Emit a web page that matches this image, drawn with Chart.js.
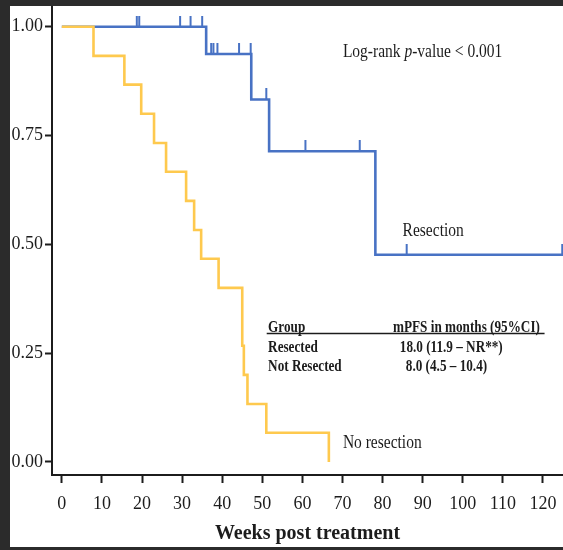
<!DOCTYPE html>
<html><head><meta charset="utf-8">
<script src="https://cdn.jsdelivr.net/npm/chart.js@4.4.1/dist/chart.umd.min.js"></script>
<style>html,body{margin:0;padding:0;background:#2a2a2a;overflow:hidden}#wrap{width:563px;height:550px;position:relative}</style>
</head><body><div id="wrap"><canvas id="c" width="563" height="550"></canvas></div>
<script>
// ---- data ----
const notResectedWeeks = [0, 7.9, 15.6, 19.8, 23.0, 26.0, 31.0, 33.0, 34.75, 39.1, 45.0, 45.4, 46.3, 51.0, 66.6];
const notResectedSurv  = [1, 0.933, 0.867, 0.8, 0.733, 0.667, 0.6, 0.533, 0.467, 0.4, 0.267, 0.2, 0.133, 0.067, 0];
const resectedWeeks = [0, 36.0, 47.25, 51.7, 78.2, 125];
const resectedSurv  = [1, 0.9375, 0.833, 0.714, 0.476, 0.476];
const censorWeeks = [18.7, 19.3, 29.5, 32.1, 35.0, 37.25, 37.8, 38.8, 44.2, 47.1, 51.0, 60.75, 74.3, 86.0, 124.8];
const censorSurv  = [1, 1, 1, 1, 1, 0.9375, 0.9375, 0.9375, 0.9375, 0.9375, 0.833, 0.714, 0.714, 0.476, 0.476];
const xTicks = [0, 10, 20, 30, 40, 50, 60, 70, 80, 90, 100, 110, 120];
const yTicks = [0, 0.25, 0.5, 0.75, 1.0];
const xTitle = 'Weeks post treatment';
const labelResected = 'Resection';
const labelNotResected = 'No resection';
const tableHeader = ['Group', 'mPFS in months (95%CI)'];
const tableRows = [['Resected', '18.0 (11.9 \u2013 NR**)'], ['Not Resected', '8.0 (4.5 \u2013 10.4)']];

const BLUE = '#4872c4', YELLOW = '#fec94e', INK = '#1c1c1c';
const SERIF = 'Liberation Serif, Times New Roman, serif';
const SY = 1.25;

function pts(xs, ys){ return xs.map((v,i)=>({x:v, y:ys[i]})); }

// censor tick glyph: vertical stroke above the point
const tick = document.createElement('canvas');
tick.width = 4; tick.height = 22;
(function(){ const t = tick.getContext('2d'); t.strokeStyle = BLUE; t.lineWidth = 2; t.beginPath(); t.moveTo(2,0); t.lineTo(2,11); t.stroke(); })();

function stxt(ctx, text, x, y, font, align){
  ctx.save();
  ctx.translate(x, y);
  ctx.scale(1, SY);
  ctx.font = font;
  ctx.textAlign = align || 'left';
  ctx.textBaseline = 'alphabetic';
  ctx.fillStyle = INK;
  ctx.fillText(text, 0, 0);
  ctx.restore();
}

const deco = {
  id: 'deco',
  beforeDraw(chart){
    const ctx = chart.ctx;
    ctx.save(); ctx.fillStyle = '#ffffff'; ctx.fillRect(0,0,chart.width,chart.height); ctx.restore();
  },
  afterDatasetsDraw(chart){
    const {ctx, scales:{x, y}} = chart;
    const X = v => x.getPixelForValue(v), Y = v => y.getPixelForValue(v);
    const f = '15.5px ' + SERIF;
    // log-rank
    let px = X(70.1), py = Y(0.93);
    ctx.save(); ctx.font = f;
    const w1 = ctx.measureText('Log-rank ').width;
    ctx.font = 'italic ' + f;
    const w2 = ctx.measureText('p').width;
    ctx.restore();
    stxt(ctx, 'Log-rank ', px, py, f);
    stxt(ctx, 'p', px + w1, py, 'italic ' + f);
    stxt(ctx, '-value < 0.001', px + w1 + w2, py, f);
    // curve labels
    stxt(ctx, labelResected, X(85.0), Y(0.52), f);
    stxt(ctx, labelNotResected, X(70.1), Y(0.0315), f);
    // table
    const fb = 'bold 13.2px ' + SERIF;
    stxt(ctx, tableHeader[0], X(51.45), Y(0.2993), fb);
    stxt(ctx, tableHeader[1], X(82.6), Y(0.2993), fb);
    ctx.save(); ctx.strokeStyle = INK; ctx.lineWidth = 1.6;
    ctx.beginPath(); ctx.moveTo(X(51.1), Y(0.2952)); ctx.lineTo(X(120.4), Y(0.2952)); ctx.stroke(); ctx.restore();
    stxt(ctx, tableRows[0][0], X(51.45), Y(0.2534), fb);
    stxt(ctx, tableRows[0][1], X(84.3), Y(0.2534), fb);
    stxt(ctx, tableRows[1][0], X(51.45), Y(0.2097), fb);
    stxt(ctx, tableRows[1][1], X(85.8), Y(0.2097), fb);
  },
  afterDraw(chart){
    const ctx = chart.ctx;
    ctx.save(); ctx.fillStyle = '#2b2b2b';
    ctx.fillRect(0, 0, 10, chart.height);
    ctx.fillRect(0, 0, chart.width, 6);
    ctx.fillRect(0, 547, chart.width, 3);
    ctx.restore();
  }
};

new Chart(document.getElementById('c'), {
  type: 'line',
  data: {
    datasets: [
      { label: 'Not Resected', data: pts(notResectedWeeks, notResectedSurv), borderColor: YELLOW, borderWidth: 2.6, stepped: 'before', pointRadius: 0, fill: false },
      { label: 'Resected', data: pts(resectedWeeks, resectedSurv), borderColor: BLUE, borderWidth: 2.6, stepped: 'before', pointRadius: 0, fill: false },
      { label: 'Censored', data: pts(censorWeeks, censorSurv), showLine: false, pointStyle: tick, pointRadius: 5, borderColor: BLUE, backgroundColor: BLUE, clip: false }
    ]
  },
  options: {
    responsive: false, animation: false, devicePixelRatio: 1,
    layout: { autoPadding: false, padding: { top: 5, left: 0, right: 0, bottom: 0 } },
    plugins: { legend: { display: false }, tooltip: { enabled: false } },
    scales: {
      x: {
        type: 'linear', min: -2.45, max: 125,
        afterBuildTicks: s => { s.ticks = xTicks.map(v => ({ value: v })); },
        afterFit: s => { s.height = 75; s.paddingLeft = 0; s.paddingRight = 0; },
        grid: { display: true, drawOnChartArea: false, drawTicks: true, tickLength: 8, tickWidth: 2, tickColor: INK },
        border: { display: true, color: INK, width: 2 },
        ticks: { color: INK, font: { family: SERIF, size: 18 }, padding: 10, maxRotation: 0, autoSkip: false, callback: v => String(v) },
        title: { display: true, text: xTitle, color: INK, font: { family: SERIF, size: 20, weight: 'bold' }, padding: { top: 0, bottom: 4 } }
      },
      y: {
        type: 'linear', min: -0.03, max: 1.05,
        afterBuildTicks: s => { s.ticks = yTicks.map(v => ({ value: v })); },
        afterFit: s => { s.width = 52; s.paddingTop = 0; s.paddingBottom = 0; },
        grid: { display: true, drawOnChartArea: false, drawTicks: true, tickLength: 7, tickWidth: 2, tickColor: INK },
        border: { display: true, color: INK, width: 2 },
        ticks: { color: INK, font: { family: SERIF, size: 18 }, padding: 2, callback: v => Number(v).toFixed(2) }
      }
    }
  },
  plugins: [deco]
});
</script>
</body></html>
